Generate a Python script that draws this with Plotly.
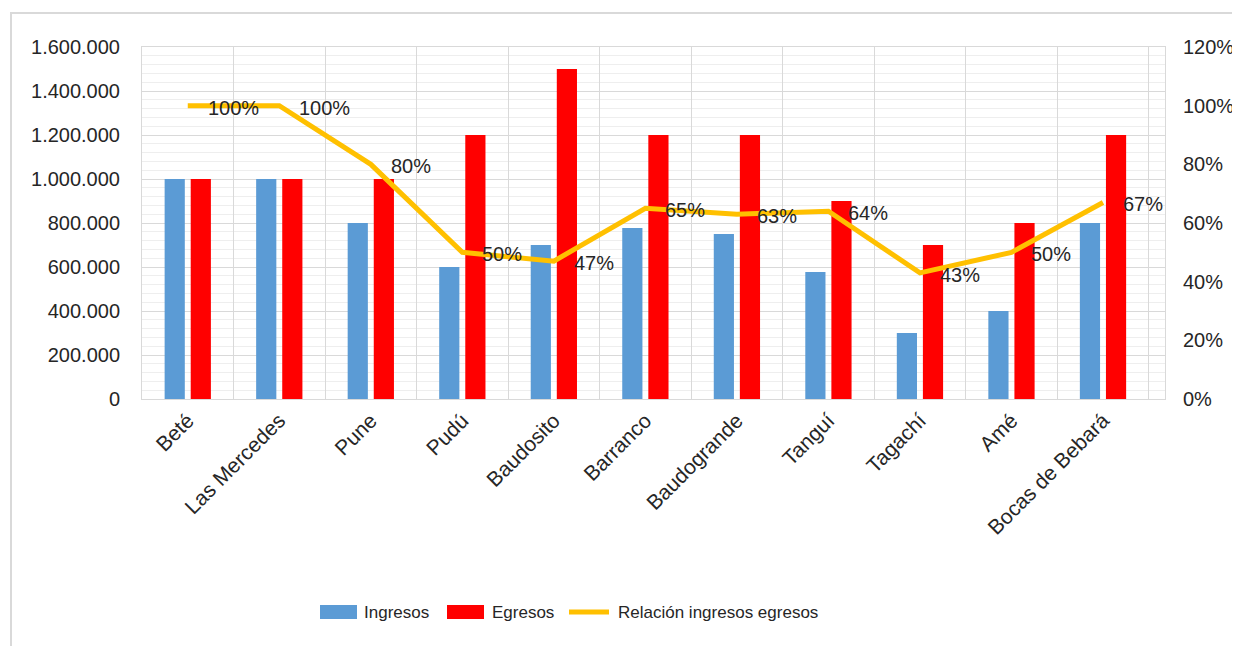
import plotly.graph_objects as go

categorias = ["Beté", "Las Mercedes", "Pune", "Pudú", "Baudosito", "Barranco",
              "Baudogrande", "Tanguí", "Tagachí", "Amé", "Bocas de Bebará"]
ingresos = [1000000, 1000000, 800000, 600000, 700000, 777000, 750000, 577000, 300000, 400000, 800000]
egresos = [1000000, 1000000, 1000000, 1200000, 1500000, 1200000, 1200000, 900000, 700000, 800000, 1200000]
relacion = [1.00, 1.00, 0.80, 0.50, 0.47, 0.65, 0.63, 0.64, 0.43, 0.50, 0.67]
nombres = ["Ingresos", "Egresos", "Relación ingresos egresos"]
colores = ["#5B9BD5", "#FF0000", "#FFC000"]

FONT = "Liberation Sans, Arial, sans-serif"
TXT = "#262626"
GRID = "#d9d9d9"

fig = go.Figure()
fig.add_trace(go.Bar(x=categorias, y=ingresos, name=nombres[0],
                     marker=dict(color=colores[0], line=dict(width=0))))
fig.add_trace(go.Bar(x=categorias, y=egresos, name=nombres[1],
                     marker=dict(color=colores[1], line=dict(width=0))))
fig.add_trace(go.Scatter(x=categorias, y=relacion, name=nombres[2],
                         yaxis="y2", mode="lines",
                         line=dict(color=colores[2], width=5)))

# figure is offset by the 8px page margin
W, H = 1232, 638
L, R, T, B = 134, 1157, 39, 391
PW, PH = R - L, B - T


def px(fx):
    return (fx - L) / PW


def py(fy):
    return (B - fy) / PH


annotations = []
for c, v in zip(categorias, relacion):
    annotations.append(dict(x=c, y=v, xref="x", yref="y2", text=f"{round(v*100)}%",
                            showarrow=False, xanchor="left", yanchor="middle",
                            xshift=18, yshift=-2,
                            font=dict(family=FONT, size=20, color=TXT)))

# custom legend
leg_y = 604
leg_font = dict(family=FONT, size=17, color=TXT)
shapes = [dict(type="rect", xref="paper", yref="paper",
               x0=px(3), x1=px(1260), y0=py(670), y1=py(5),
               line=dict(color=GRID, width=2), fillcolor="rgba(0,0,0,0)",
               layer="below")]
sw = [(312, 349, 354), (439, 476, 482), (561, 601, 608)]
for i, (a, b, t) in enumerate(sw):
    if i < 2:
        shapes.append(dict(type="rect", xref="paper", yref="paper",
                           x0=px(a), x1=px(b), y0=py(leg_y + 7), y1=py(leg_y - 7),
                           line=dict(width=0), fillcolor=colores[i]))
    else:
        shapes.append(dict(type="line", xref="paper", yref="paper",
                           x0=px(a), x1=px(b), y0=py(leg_y), y1=py(leg_y),
                           line=dict(color=colores[i], width=5)))
    annotations.append(dict(x=px(t), y=py(leg_y), xref="paper", yref="paper",
                            text=nombres[i], showarrow=False, xanchor="left",
                            yanchor="middle", font=leg_font))

fig.update_layout(
    width=W, height=H,
    margin=dict(l=L, r=W - R, t=T, b=H - B, autoexpand=False),
    paper_bgcolor="white", plot_bgcolor="white",
    separators=",.",
    barmode="group", bargap=0.43, bargroupgap=0.226,
    font=dict(family=FONT, size=21, color=TXT),
    showlegend=False,
    xaxis=dict(type="category", tickangle=-45, tickson="boundaries",
               showgrid=True, gridcolor=GRID, gridwidth=1,
               showline=True, linecolor=GRID, linewidth=1, mirror=True,
               ticks="", tickfont=dict(family=FONT, size=21, color=TXT)),
    yaxis=dict(range=[0, 1600000], dtick=200000, tickformat=",d",
               showgrid=True, gridcolor=GRID, gridwidth=1,
               minor=dict(dtick=40000, showgrid=True, gridcolor="#eeeeee", gridwidth=1),
               showline=True, linecolor=GRID, linewidth=1, mirror=True,
               zeroline=False, ticks="", ticklabelstandoff=17,
               tickfont=dict(family=FONT, size=20, color=TXT)),
    yaxis2=dict(range=[0, 1.2], dtick=0.2, tickformat=".0%",
                overlaying="y", side="right", showgrid=False, zeroline=False,
                showline=False, ticks="", ticklabelstandoff=17,
                tickfont=dict(family=FONT, size=20, color=TXT)),
    shapes=shapes,
    annotations=annotations,
)

fig.write_html("out.html")
